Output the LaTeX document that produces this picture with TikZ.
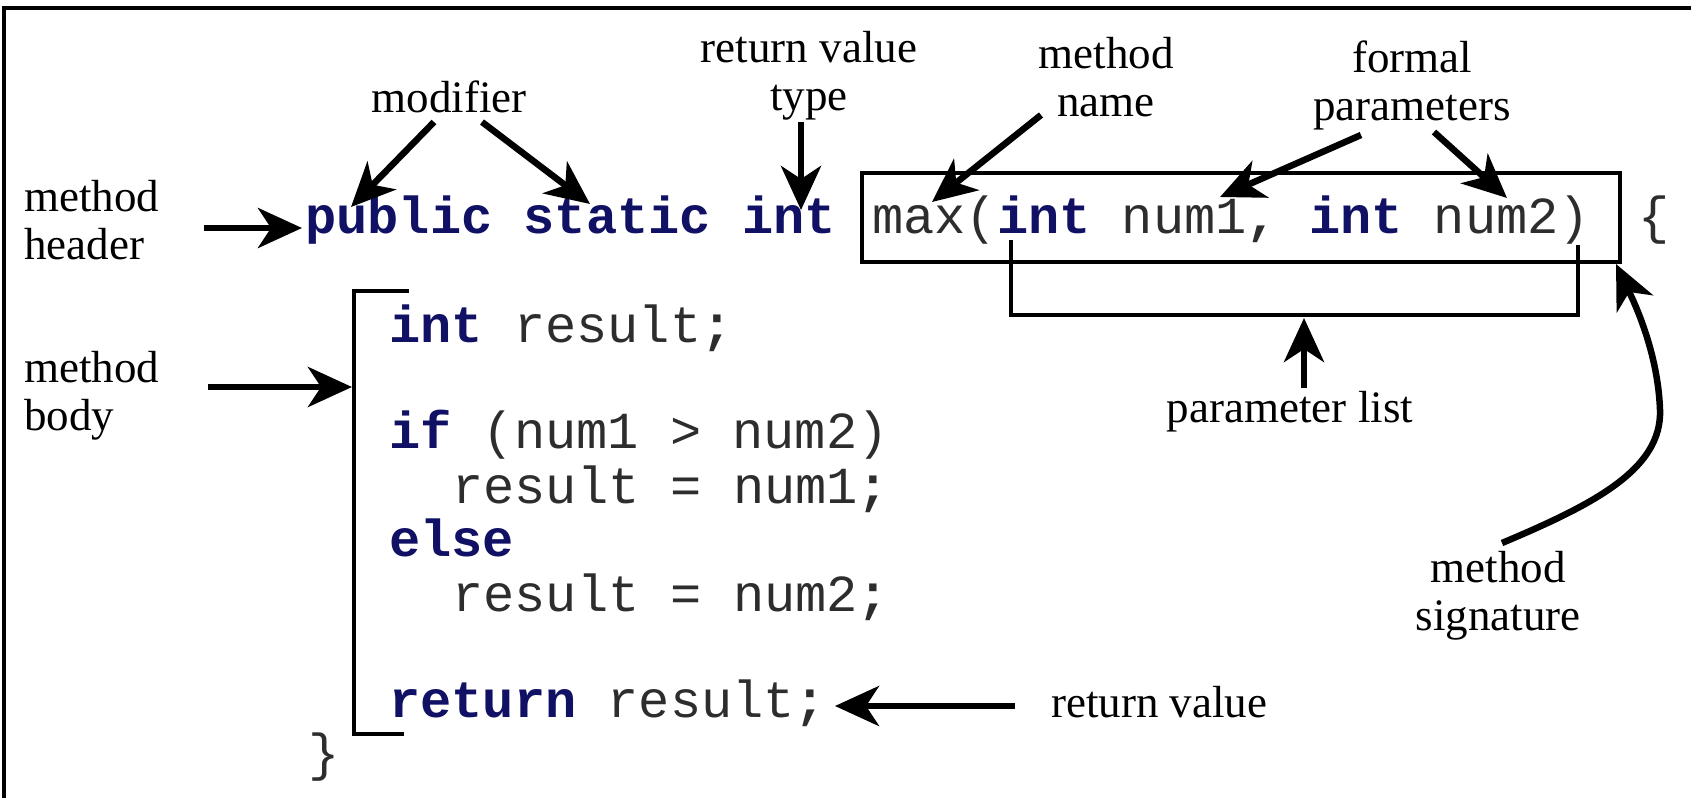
\documentclass[tikz,border=0pt]{standalone}
\usepackage{fontspec}
\setmainfont{Liberation Serif}
\setmonofont{Liberation Mono}
\usetikzlibrary{arrows.meta}
\definecolor{kw}{RGB}{16,16,100}
\definecolor{codec}{RGB}{45,45,45}
\newcommand{\kwd}[1]{\textcolor{kw}{\textbf{#1}}}
\newcommand{\pnc}[1]{\textbf{#1}}
\tikzset{
  lbl/.style={font=\fontsize{45}{48}\selectfont, align=center, inner sep=0pt},
  lbll/.style={lbl, align=left},
  cd/.style={font=\fontsize{52}{53}\selectfont\ttfamily, text=codec, anchor=base west, inner sep=0pt},
  arr/.style={line width=6.5pt, -{Stealth[length=44pt 0 0,width=40pt 0,inset=13pt 0]}},
  frm/.style={line width=4pt},
  brk/.style={line width=3.5pt},
}
\begin{document}
\begin{tikzpicture}[x=1pt,y=-1pt]
\useasboundingbox (0,0) rectangle (1691,798);
% frame
\draw[frm] (4,798) -- (4,8) -- (1691,8);

% code header
\node[cd] (pub) at (305,233) {\kwd{public static int}};
\node[cd] (sig) at (872,233) {max(\kwd{int} num1\pnc{,} \kwd{int} num2)};
\node[cd] (brace) at (1638,233) {\{};

% body
\node[cd] (l1) at (389,342) {\kwd{int} result\pnc{;}};
\node[cd] (l2) at (389,448) {\kwd{if} (num1 > num2)};
\node[cd] (l3) at (452,503) {result = num1\pnc{;}};
\node[cd] (l4) at (389,556) {\kwd{else}};
\node[cd] (l5) at (452,611) {result = num2\pnc{;}};
\node[cd] (l6) at (389,717) {\kwd{return} result\pnc{;}};
\node[cd] (cl) at (308,770) {\}};

% boxes and brackets
\draw[brk] (862,173) rectangle (1620,262);
\draw[brk] (1011,240) -- (1011,315) -- (1578,315) -- (1578,245);
\draw[frm] (409,291) -- (354,291) -- (354,734) -- (404,734);

% labels
\node[lbl, anchor=base] (mod) at (449,112) {modifier};
\node[lbl, anchor=north] (rvt) at (809,62-33.6) {\strut return value\\\strut type};
\node[lbl, anchor=north] (mn) at (1106,68-33.6) {\strut method\\\strut name};
\node[lbl, anchor=north] (fp) at (1412,72-33.6) {\strut formal\\\strut parameters};
\node[lbll, anchor=north west] (mh) at (24,211-33.6) {\strut method\\\strut header};
\node[lbll, anchor=north west] (mb) at (24,382-33.6) {\strut method\\\strut body};
\node[lbl, anchor=base] (pl) at (1290,422) {parameter list};
\node[lbl, anchor=north] (ms) at (1498,582-33.6) {\strut method\\\strut signature};
\node[lbl, anchor=base west] (rv) at (1051,717) {return value};

% arrow end points
\coordinate (m1a) at (434,122);  \coordinate (m1b) at (351,207);
\coordinate (m2a) at (482,122);  \coordinate (m2b) at (590,204);
\coordinate (ta)  at (801,122);  \coordinate (tb)  at (801,210);
\coordinate (na)  at (1041,115); \coordinate (nb)  at (932,202);
\coordinate (f1a) at (1361,135); \coordinate (f1b) at (1220,197);
\coordinate (f2a) at (1434,132); \coordinate (f2b) at (1507,198);
\coordinate (ha)  at (204,228);  \coordinate (hb)  at (302,228);
\coordinate (ba)  at (208,387);  \coordinate (bb)  at (352,387);
\coordinate (pa)  at (1304,388); \coordinate (pb)  at (1304,318);
\coordinate (ra)  at (1015,706); \coordinate (rb)  at (835,706);
\coordinate (sa)  at (1502,543); \coordinate (sb)  at (1616,264);

\draw[arr] (m1a) -- (m1b);
\draw[arr] (m2a) -- (m2b);
\draw[arr] (ta) -- (tb);
\draw[arr] (na) -- (nb);
\draw[arr] (f1a) -- (f1b);
\draw[arr] (f2a) -- (f2b);
\draw[arr] (ha) -- (hb);
\draw[arr] (ba) -- (bb);
\draw[arr] (pa) -- (pb);
\draw[arr] (ra) -- (rb);
\draw[arr] (sa) .. controls (1592,505) and (1662,470) .. (1660,410)
               .. controls (1658,352) and (1634,302) .. (sb);
\end{tikzpicture}
\end{document}
